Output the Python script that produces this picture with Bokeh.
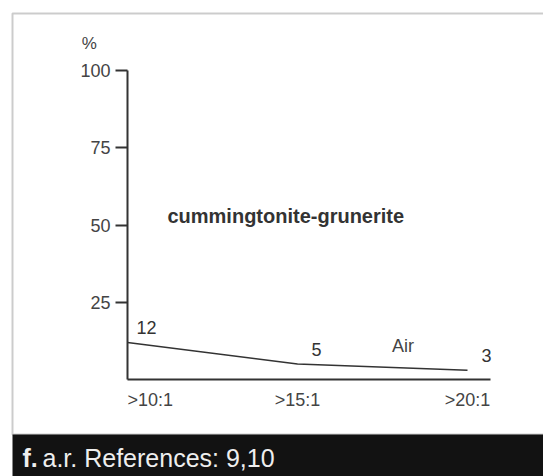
from bokeh.plotting import figure
from bokeh.models import Range1d, FixedTicker, Label, BoxAnnotation, ColumnDataSource
from bokeh.core.properties import value
from bokeh.embed import file_html
from bokeh.resources import INLINE

# ---- data ----
categories = [">10:1", ">15:1", ">20:1"]
percent = [12, 5, 3]
series_name = "cummingtonite-grunerite"
medium = "Air"
y_ticks = [25, 50, 75, 100]
caption_bold = "f."
caption_rest = "a.r. References: 9,10"

FONT = "Liberation Sans"
INK = "#333333"
W, H = 543, 476
# pixel layout of the plotting area inside the canvas
X0_PX, X_PER_UNIT = 127, 170.0     # x=0 at 127 px from left
Y0_PX, Y_PER_UNIT = 379, 3.09      # y=0 at 379 px from top
X_AXIS_END = 2.135

x_idx = list(range(len(categories)))
src = ColumnDataSource(dict(x=x_idx, y=percent, lab=[str(v) for v in percent]))

p = figure(width=W, height=H, output_backend="svg", toolbar_location=None,
           x_range=Range1d(-X0_PX / X_PER_UNIT, (W - X0_PX) / X_PER_UNIT),
           y_range=Range1d(-(H - Y0_PX) / Y_PER_UNIT, Y0_PX / Y_PER_UNIT),
           min_border=0)
p.background_fill_color = "white"
p.border_fill_color = "white"
p.outline_line_color = None
p.xgrid.grid_line_color = None
p.ygrid.grid_line_color = None

# y axis
ya = p.yaxis[0]
ya.fixed_location = 0
ya.bounds = (0, 100)
ya.ticker = FixedTicker(ticks=y_ticks)
ya.axis_line_color = INK
ya.axis_line_width = 2
ya.major_tick_line_color = INK
ya.major_tick_line_width = 2
ya.major_tick_out = 12
ya.major_tick_in = 0
ya.minor_tick_line_color = None
ya.major_label_text_font = FONT
ya.major_label_text_font_size = "18px"
ya.major_label_text_color = "#444444"
ya.major_label_standoff = 5

# x axis
xa = p.xaxis[0]
xa.fixed_location = 0
xa.bounds = (0, X_AXIS_END)
xa.ticker = FixedTicker(ticks=[])
xa.axis_line_color = INK
xa.axis_line_width = 2
xa.major_tick_line_color = None
xa.minor_tick_line_color = None

# data line and value labels
p.line("x", "y", source=src, line_color=INK, line_width=1.6)
p.text("x", "y", text="lab", source=src, x_offset=19, y_offset=-15,
       text_font=value(FONT), text_font_size="18px", text_color=INK,
       text_align="center", text_baseline="middle")

# category labels
for i, c in enumerate(categories):
    p.add_layout(Label(x=x_idx[i], y=-6.5, text=c, text_font=FONT, text_font_size="18px",
                       text_color="#444444", text_align="left" if i == 0 else "center",
                       text_baseline="middle"))

# axis unit
p.add_layout(Label(x=-0.224, y=108.7, text="%", text_font=FONT, text_font_size="17px",
                   text_color="#444444", text_align="center", text_baseline="middle"))

# in-plot labels
p.add_layout(Label(x=0.235, y=53, text=series_name, text_font=FONT, text_font_size="20px",
                   text_font_style="bold", text_color=INK, text_align="left", text_baseline="middle"))
p.add_layout(Label(x=1.62, y=11, text=medium, text_font=FONT, text_font_size="18px",
                   text_color="#444444", text_align="center", text_baseline="middle"))

# panel frame and caption bar
p.add_layout(BoxAnnotation(left=12, right=560, top=13, bottom=434,
                           left_units="canvas", right_units="canvas", top_units="canvas", bottom_units="canvas",
                           fill_color=None, line_color="#555555", line_width=2))
p.add_layout(BoxAnnotation(left=12, right=560, top=434, bottom=490,
                           left_units="canvas", right_units="canvas", top_units="canvas", bottom_units="canvas",
                           fill_color="#121212", fill_alpha=1, line_color=None))
p.add_layout(Label(x=22, y=457, x_units="canvas", y_units="canvas", text=caption_bold,
                   text_font=FONT, text_font_size="25px", text_font_style="bold",
                   text_color="#eeeeee", text_baseline="middle"))
p.add_layout(Label(x=42, y=457, x_units="canvas", y_units="canvas", text=caption_rest,
                   text_font=FONT, text_font_size="25px",
                   text_color="#eeeeee", text_baseline="middle"))

open("out.html", "w").write(file_html(p, INLINE))
